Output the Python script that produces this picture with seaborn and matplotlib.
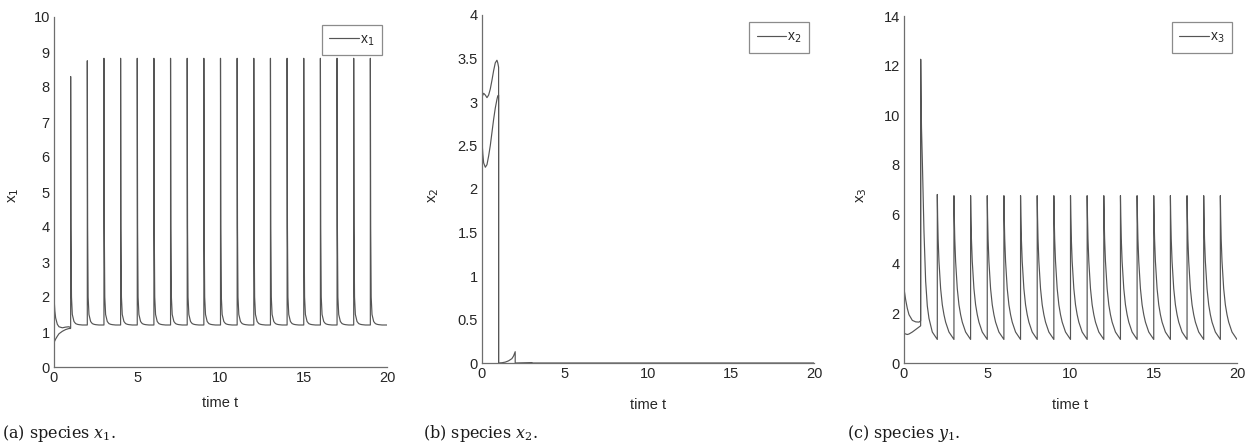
import numpy as np
import pandas as pd
import matplotlib
matplotlib.use("Agg")
import matplotlib.pyplot as plt
import seaborn as sns

# --- values ---
pulse_times = list(range(1, 20))          # impulses at t = 1, 2, ..., 19
decay_offsets = [0, 0.02, 0.05, 0.1, 0.2, 0.3, 0.4, 0.5, 0.7, 1.0]

# species x1
x1_init_t = [0, 0.05, 0.1, 0.2, 0.3, 0.5, 0.7, 0.9, 1.0]
x1_init_a = [2.0, 1.6, 1.4, 1.22, 1.15, 1.12, 1.14, 1.15, 1.12]
x1_init_b = [0.7, 0.75, 0.8, 0.88, 0.95, 1.02, 1.07, 1.1, 1.1]
x1_peaks = [8.3, 8.75] + [8.82] * 17
x1_decay = [None, 4.0, 2.0, 1.5, 1.3, 1.24, 1.22, 1.21, 1.2, 1.2]

# species x2
x2_init_t = [0, 0.05, 0.1, 0.2, 0.3, 0.4, 0.5, 0.6, 0.7, 0.8, 0.9, 0.95, 1.0]
x2_init_a = [3.05, 3.08, 3.1, 3.08, 3.05, 3.08, 3.15, 3.25, 3.36, 3.45, 3.48, 3.45, 3.4]
x2_init_b = [2.55, 2.4, 2.3, 2.25, 2.28, 2.38, 2.5, 2.65, 2.8, 2.93, 3.03, 3.07, 3.08]
x2_after_t = [1.0, 1.2, 1.4, 1.6, 1.8, 1.9, 2.0, 2.0, 3.0, 3.0, 20.0]
x2_after_v = [0.0, 0.003, 0.01, 0.025, 0.05, 0.08, 0.13, 0.0, 0.005, 0.0, 0.0]

# species y1 (labelled x3)
x3_init_t = [0, 0.1, 0.2, 0.3, 0.5, 0.7, 0.9, 1.0]
x3_init_a = [3.0, 2.55, 2.2, 1.95, 1.72, 1.66, 1.65, 1.7]
x3_init_b = [1.2, 1.17, 1.15, 1.17, 1.25, 1.35, 1.45, 1.5]
x3_peaks = [12.25, 6.8] + [6.75] * 17
x3_first_decay = [None, 11.0, 9.5, 8.2, 5.3, 3.3, 2.3, 1.8, 1.25, 0.95]
x3_decay = [None, 5.9, 5.0, 4.1, 3.0, 2.35, 1.95, 1.65, 1.25, 0.95]

line_col = "#555555"
axis_col = "#6e6e6e"


def impulsive(init_t, init_v, peaks, decay, first_decay=None):
    t = list(init_t)
    v = list(init_v)
    for i, (tk, pk) in enumerate(zip(pulse_times, peaks)):
        prof = first_decay if (i == 0 and first_decay is not None) else decay
        for off, val in zip(decay_offsets, prof):
            t.append(tk + off)
            v.append(pk if val is None else val)
    return pd.DataFrame({"t": t, "v": v})


df_x1 = impulsive(x1_init_t, x1_init_a, x1_peaks, x1_decay)
df_x1b = pd.DataFrame({"t": x1_init_t, "v": x1_init_b})

df_x2 = pd.DataFrame({"t": x2_init_t + [1.0] + x2_after_t,
                      "v": x2_init_a + [0.0] + x2_after_v})
df_x2b = pd.DataFrame({"t": x2_init_t + [1.0], "v": x2_init_b + [0.0]})

df_x3 = impulsive(x3_init_t, x3_init_a, x3_peaks, x3_decay, x3_first_decay)
df_x3b = pd.DataFrame({"t": x3_init_t + [1.0], "v": x3_init_b + [x3_peaks[0]]})

sns.set_style("white")
plt.rcParams["font.family"] = ["Liberation Sans", "DejaVu Sans"]

fig = plt.figure(figsize=(12.59, 4.48), dpi=100)
ax_pos = [
    [54 / 1259, 81 / 448, 333 / 1259, 350 / 448],
    [482 / 1259, 85 / 448, 332 / 1259, 348 / 448],
    [904 / 1259, 85 / 448, 333 / 1259, 347 / 448],
]

panels = [
    (df_x1, df_x1b, (0, 10), np.arange(0, 11, 1), ["%d" % v for v in range(0, 11)],
     "x$_1$", "(a) species $x_1$."),
    (df_x2, df_x2b, (0, 4), np.arange(0, 4.01, 0.5),
     ["0", "0.5", "1", "1.5", "2", "2.5", "3", "3.5", "4"],
     "x$_2$", "(b) species $x_2$."),
    (df_x3, df_x3b, (0, 14), np.arange(0, 15, 2), ["%d" % v for v in range(0, 15, 2)],
     "x$_3$", "(c) species $y_1$."),
]
caption_x = [2, 423, 847]
ylabel_x = [14, 434, 862]
xlabel_pad = [8, 12, 12]
legend_anchor = [(0.985, 0.978), (0.985, 0.98), (0.985, 0.982)]

for i, (main, extra, ylim, yticks, ylabels, name, caption) in enumerate(panels):
    ax = fig.add_axes(ax_pos[i])
    sns.lineplot(data=main, x="t", y="v", sort=False, estimator=None,
                 color=line_col, lw=0.85, ax=ax, label=name)
    sns.lineplot(data=extra, x="t", y="v", sort=False, estimator=None,
                 color=line_col, lw=0.85, ax=ax, legend=False)
    ax.set_xlim(0, 20)
    ax.set_ylim(*ylim)
    ax.set_xticks([0, 5, 10, 15, 20])
    ax.set_yticks(yticks)
    ax.set_yticklabels(ylabels)
    sns.despine(ax=ax)
    for s in ["left", "bottom"]:
        ax.spines[s].set_color(axis_col)
        ax.spines[s].set_linewidth(0.9)
    ax.tick_params(direction="in", length=4, width=0.8, color=axis_col,
                   labelsize=10.5, labelcolor="#262626", pad=3)
    ax.set_xlabel("time t", fontsize=10.5, color="#262626", labelpad=xlabel_pad[i])
    ax.set_ylabel("")
    fig.text(ylabel_x[i] / 1259, 1 - 195 / 448, name, rotation=90,
             fontsize=11, color="#262626", ha="center", va="center")
    leg = ax.legend(loc="upper right", bbox_to_anchor=legend_anchor[i], fontsize=10,
                    frameon=True, fancybox=False, handlelength=2.1,
                    handletextpad=0.1, borderpad=0.55, borderaxespad=0.0)
    leg.get_frame().set_edgecolor(axis_col)
    leg.get_frame().set_linewidth(0.9)
    fig.text(caption_x[i] / 1259, 1 - 433 / 448, caption,
             family=["DejaVu Serif"], math_fontfamily="dejavuserif", fontsize=11.5,
             color="#1a1a1a", ha="left", va="center")

fig.savefig("out.png", dpi=100)
